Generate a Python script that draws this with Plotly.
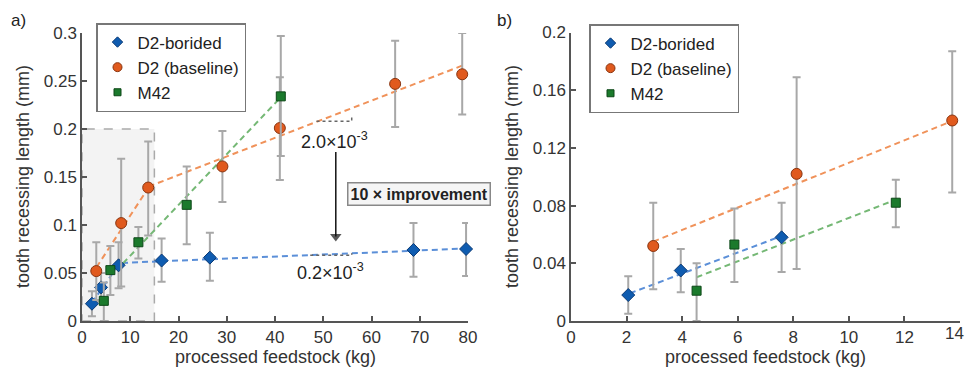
import plotly.graph_objects as go

# ---------------- data ----------------
# panel a) – full range
borided_x = [2.06, 3.95, 7.58, 16.5, 26.5, 68.7, 79.6]
borided_y = [0.018, 0.035, 0.058, 0.063, 0.066, 0.074, 0.075]
borided_hi = [0.031, 0.050, 0.082, 0.086, 0.092, 0.102, 0.102]
borided_lo = [0.005, 0.020, 0.034, 0.041, 0.042, 0.046, 0.047]

baseline_x = [2.96, 8.12, 13.72, 29.1, 41.0, 64.9, 78.8]
baseline_y = [0.052, 0.102, 0.139, 0.161, 0.201, 0.247, 0.257]
baseline_hi = [0.082, 0.169, 0.187, 0.198, 0.254, 0.292, 0.300]
baseline_lo = [0.022, 0.036, 0.089, 0.124, 0.147, 0.202, 0.215]

m42_x = [4.52, 5.88, 11.69, 21.7, 41.2]
m42_y = [0.021, 0.053, 0.082, 0.121, 0.234]
m42_hi = [0.040, 0.078, 0.098, 0.161, 0.297]
m42_lo = [0.0, 0.027, 0.065, 0.080, 0.172]

# panel b) uses the first three points of each series
N_B = 3

# trend lines (end points)
a_borided_fit1_x = [2.06, 7.58]
a_borided_fit1_y = [0.019, 0.0585]
a_borided_fit2_x = [8.3, 79.6]
a_borided_fit2_y = [0.0605, 0.0755]
a_baseline_fit1_x = [3.0, 13.8]
a_baseline_fit1_y = [0.056, 0.139]
a_baseline_fit2_x = [13.8, 78.8]
a_baseline_fit2_y = [0.140, 0.266]
a_m42_fit_x = [8.5, 41.2]
a_m42_fit_y = [0.060, 0.233]

b_borided_fit_x = [2.12, 7.52]
b_borided_fit_y = [0.0192, 0.0585]
b_baseline_fit_x = [2.96, 13.64]
b_baseline_fit_y = [0.055, 0.138]
b_m42_fit_x = [4.52, 11.66]
b_m42_fit_y = [0.0303, 0.0839]

# slope helper triangles
slope_hi_x = [48.6, 55.9, 55.9]
slope_hi_y = [0.208, 0.208, 0.2146]
slope_lo_x = [47.3, 55.9, 55.9]
slope_lo_y = [0.0685, 0.0685, 0.0705]

# "10x improvement" arrow
arrow_x = [52.6, 52.6]
arrow_y = [0.176, 0.088]

a_xticks = [0, 10, 20, 30, 40, 50, 60, 70, 80]
a_yticks = [0, 0.05, 0.1, 0.15, 0.2, 0.25, 0.3]
a_yticktext = ["0", "0.05", "0.1", "0.15", "0.2", "0.25", "0.3"]
b_xticks = [0, 2, 4, 6, 8, 10, 12, 14]
b_xticktext = ["0", "2", "4", "6", "8", "10", "12", ""]
b_last_xtick = "14"
b_yticks = [0, 0.04, 0.08, 0.12, 0.16, 0.2]
b_yticktext = ["0", "0.04", "0.08", "0.12", "0.16", "0.2"]

names = ["D2-borided", "D2 (baseline)", "M42"]

# ---------------- styles ----------------
FONT = "Liberation Sans, Arial, sans-serif"
TXT = "#333333"
AX = "#555555"
BLUE, BLUE_D, BLUE_L = "#0f5cb0", "#0a3a75", "#5b8fd8"
ORNG, ORNG_D, ORNG_L = "#e05a1e", "#8a3510", "#f0925a"
GRN, GRN_D, GRN_L = "#1b7a2c", "#0c4717", "#75b875"
ERR = "#a8a8a8"

fig = go.Figure()


def err(y, hi, lo):
    return dict(type="data", symmetric=False,
                array=[h - v for h, v in zip(hi, y)],
                arrayminus=[v - l for v, l in zip(y, lo)],
                color=ERR, thickness=2, width=4)


def line(x, y, color, xa, ya):
    fig.add_trace(go.Scatter(x=x, y=y, mode="lines", xaxis=xa, yaxis=ya,
                             line=dict(color=color, width=2, dash="6px,4px"),
                             showlegend=False, hoverinfo="skip"))


# trend lines panel a
line(a_borided_fit1_x, a_borided_fit1_y, BLUE_L, "x", "y")
line(a_borided_fit2_x, a_borided_fit2_y, BLUE_L, "x", "y")
line(a_baseline_fit1_x, a_baseline_fit1_y, ORNG_L, "x", "y")
line(a_baseline_fit2_x, a_baseline_fit2_y, ORNG_L, "x", "y")
line(a_m42_fit_x, a_m42_fit_y, GRN_L, "x", "y")
# trend lines panel b
line(b_borided_fit_x, b_borided_fit_y, BLUE_L, "x2", "y2")
line(b_baseline_fit_x, b_baseline_fit_y, ORNG_L, "x2", "y2")
line(b_m42_fit_x, b_m42_fit_y, GRN_L, "x2", "y2")

# slope triangles
for sx, sy in [(slope_hi_x, slope_hi_y), (slope_lo_x, slope_lo_y)]:
    fig.add_trace(go.Scatter(x=sx, y=sy, mode="lines", xaxis="x", yaxis="y",
                             line=dict(color="#666666", width=1.5, dash="dot"),
                             showlegend=False, hoverinfo="skip"))

# arrow (shaft + head)
fig.add_trace(go.Scatter(x=arrow_x, y=arrow_y, mode="lines+markers", xaxis="x", yaxis="y",
                         line=dict(color="#111111", width=1.5),
                         marker=dict(symbol=["line-ew", "triangle-down"], size=[1, 10],
                                     color="#111111", line=dict(width=0)),
                         showlegend=False, hoverinfo="skip"))

series = [
    (borided_x, borided_y, borided_hi, borided_lo, "diamond", 10, BLUE, BLUE_D),
    (baseline_x, baseline_y, baseline_hi, baseline_lo, "circle", 11, ORNG, ORNG_D),
    (m42_x, m42_y, m42_hi, m42_lo, "square", 9, GRN, GRN_D),
]

for (sx, sy, hi, lo, sym, sz, col, dcol), nm in zip(series, names):
    # panel a
    fig.add_trace(go.Scatter(x=sx, y=sy, mode="markers", xaxis="x", yaxis="y",
                             error_y=err(sy, hi, lo), name=nm, showlegend=False,
                             cliponaxis=False,
                             marker=dict(symbol=sym, size=sz, color=col,
                                         line=dict(color=dcol, width=1))))
    # panel b
    fig.add_trace(go.Scatter(x=sx[:N_B], y=sy[:N_B], mode="markers", xaxis="x2", yaxis="y2",
                             error_y=err(sy[:N_B], hi[:N_B], lo[:N_B]), name=nm,
                             showlegend=False, cliponaxis=False,
                             marker=dict(symbol=sym, size=sz, color=col,
                                         line=dict(color=dcol, width=1))))

# legend entries (small markers, as in the picture)
leg_sizes = [8, 9, 7]
for (sx, sy, hi, lo, sym, sz, col, dcol), nm, ls in zip(series, names, leg_sizes):
    for lg, xa, ya in [("legend", "x", "y"), ("legend2", "x2", "y2")]:
        fig.add_trace(go.Scatter(x=[None], y=[None], mode="markers", name=nm,
                                 xaxis=xa, yaxis=ya, legend=lg,
                                 marker=dict(symbol=sym, size=ls, color=col,
                                             line=dict(color=dcol, width=1))))

axis_common = dict(showline=True, linecolor=AX, linewidth=1.5, ticks="inside",
                   ticklen=5, tickwidth=1.5, tickcolor=AX, showgrid=False,
                   zeroline=False, mirror=False, automargin=False,
                   tickfont=dict(family=FONT, size=17, color=TXT))

W, H = 966, 368
fig.update_layout(
    width=W, height=H,
    margin=dict(l=0, r=0, t=0, b=0, pad=0, autoexpand=False),
    paper_bgcolor="white", plot_bgcolor="white",
    font=dict(family=FONT, color=TXT),
    xaxis=dict(domain=[82 / W, 468 / W], range=[0, 80], tickvals=a_xticks,
               anchor="y", **axis_common),
    yaxis=dict(domain=[(H - 321) / H, (H - 33) / H], range=[0, 0.3],
               tickvals=a_yticks, ticktext=a_yticktext, anchor="x", **axis_common),
    xaxis2=dict(domain=[571 / W, 960 / W], range=[0, 14], tickvals=b_xticks,
                ticktext=b_xticktext, anchor="y2", **axis_common),
    yaxis2=dict(domain=[(H - 321) / H, (H - 32.5) / H], range=[0, 0.2],
                tickvals=b_yticks, ticktext=b_yticktext, anchor="x2", **axis_common),
    legend=dict(x=96 / W, y=1 - 23 / H, xanchor="left", yanchor="top",
                bgcolor="white", bordercolor="#777777", borderwidth=1.5,
                font=dict(family=FONT, size=17, color="#222222"),
                tracegroupgap=0, itemwidth=30),
    legend2=dict(x=589 / W, y=1 - 24 / H, xanchor="left", yanchor="top",
                 bgcolor="white", bordercolor="#777777", borderwidth=1.5,
                 font=dict(family=FONT, size=17, color="#222222"),
                 tracegroupgap=0, itemwidth=30),
    showlegend=True,
)

# shaded zoom region in panel a
fig.add_shape(type="rect", xref="x", yref="y", x0=0, x1=15, y0=0, y1=0.2,
              fillcolor="#f3f3f3", line=dict(color="#aaaaaa", width=1.5, dash="dash"),
              layer="below")

ann = []
# panel labels
ann.append(dict(text="a)", x=18 / W, y=1 - 21 / H))
ann.append(dict(text="b)", x=504 / W, y=1 - 21 / H))
for a in ann:
    a.update(xref="paper", yref="paper", showarrow=False, xanchor="center",
             yanchor="middle", font=dict(family=FONT, size=17, color="#222"))
# last tick label of panel b, kept inside the picture's right edge
ann.append(dict(text=b_last_xtick, x=1, y=1 - 333 / H, xref="paper", yref="paper",
                showarrow=False, xanchor="right", yanchor="middle",
                font=dict(family=FONT, size=17, color=TXT)))
# axis titles
for xc, yc in [(23 / W, 1 - 177 / H), (512 / W, 1 - 177 / H)]:
    ann.append(dict(text="tooth recessing length (mm)", x=xc, y=yc, xref="paper",
                    yref="paper", textangle=-90, showarrow=False,
                    xanchor="center", yanchor="middle",
                    font=dict(family=FONT, size=18, color=TXT)))
for xc in [275 / W, 765 / W]:
    ann.append(dict(text="processed feedstock (kg)", x=xc, y=1 - 357 / H, xref="paper",
                    yref="paper", showarrow=False, xanchor="center", yanchor="middle",
                    font=dict(family=FONT, size=18, color=TXT)))
# slope annotations
ann.append(dict(text="2.0×10<sup>-3</sup>", x=52.4, y=0.188, xref="x", yref="y",
                showarrow=False, xanchor="center", yanchor="middle",
                font=dict(family=FONT, size=18, color="#222")))
ann.append(dict(text="0.2×10<sup>-3</sup>", x=51.6, y=0.052, xref="x", yref="y",
                showarrow=False, xanchor="center", yanchor="middle",
                font=dict(family=FONT, size=18, color="#222")))
# improvement box
ann.append(dict(text="<b>10 × improvement</b>", x=69.8, y=0.132, xref="x", yref="y",
                showarrow=False, bgcolor="#f5f5f5", bordercolor="#888888",
                borderwidth=1.5, borderpad=2, xanchor="center", yanchor="middle",
                font=dict(family=FONT, size=16, color="#222")))
fig.update_layout(annotations=ann)

fig.write_html("out.html",
               config={"displayModeBar": False},
               post_script="document.body.style.margin='0';"
                           "document.body.style.overflow='hidden';")
